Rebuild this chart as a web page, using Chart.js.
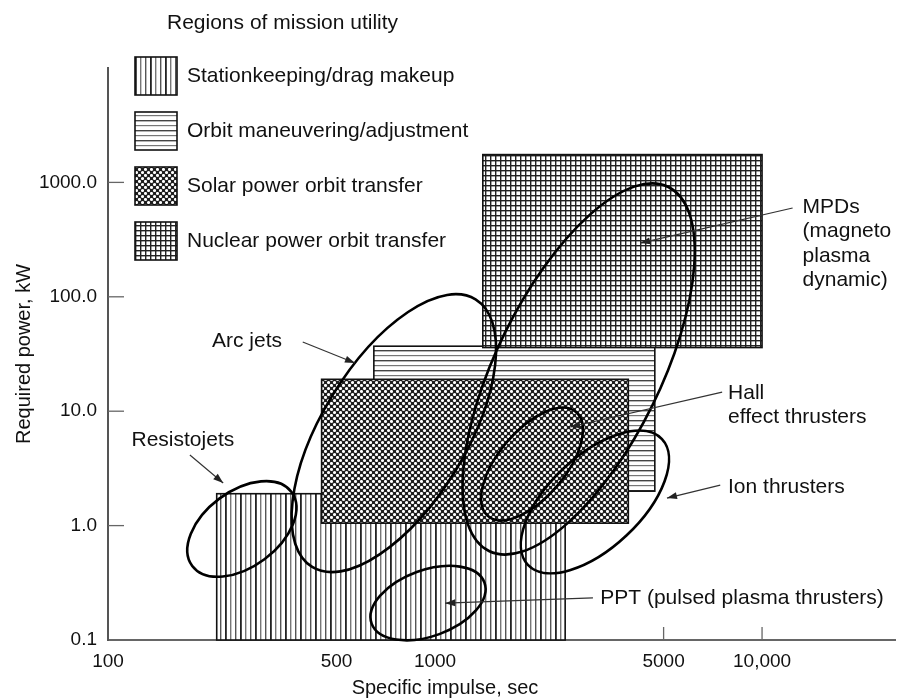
<!DOCTYPE html>
<html>
<head>
<meta charset="utf-8">
<script src="https://cdn.jsdelivr.net/npm/chart.js@4.4.0/dist/chart.umd.min.js"></script>
<style>
  body { margin: 0; background: #fff; }
  #wrap { width: 899px; height: 700px; }
</style>
</head>
<body>
<div id="wrap"><canvas id="myChart"></canvas></div>
<script>
// axis ticks
const xTicks = [100, 500, 1000, 5000, 10000];
const xTickLabels = ["100", "500", "1000", "5000", "10,000"];
const yTicks = [0.1, 1, 10, 100, 1000];
const yTickLabels = ["0.1", "1.0", "10.0", "100.0", "1000.0"];

// regions of mission utility (isp in sec, power in kW)
const regionNames = [
  "Stationkeeping/drag makeup",
  "Orbit maneuvering/adjustment",
  "Solar power orbit transfer",
  "Nuclear power orbit transfer",
];
const regionIspMin = [215, 650, 450, 1400];
const regionIspMax = [2500, 4700, 3900, 10000];
const regionPowerMin = [0.1, 2, 1.05, 36];
const regionPowerMax = [1.9, 37, 19, 1750];

// thruster ellipses: major axis from (ispA, powerA) to (ispB, powerB)
const thrusterNames = ["Resistojets", "Arc jets", "MPDs", "Hall", "Ion", "PPT"];
const ellIspA = [181, 421, 1462, 1452, 1923, 640];
const ellPowerA = [0.444, 0.435, 0.6, 1.21, 0.453, 0.139];
const ellIspB = [364, 1330, 5170, 2698, 4943, 1416];
const ellPowerB = [1.97, 95, 912, 9.84, 5.71, 0.318];
const ellWidth = [0.61, 0.46, 0.405, 0.49, 0.5, 0.55];

// callout labels and their arrows (data coordinates)
const callouts = [
  { lines: ["Resistojets"], isp: 118, power: 5.6, from: [178, 4.14], to: [225, 2.36] },
  { lines: ["Arc jets"], isp: 208, power: 41, from: [394, 40.3], to: [569, 26.4] },
  { lines: ["MPDs", "(magneto", "plasma", "dynamic)"], isp: 13300, power: 610, from: [12400, 597], to: [4240, 295] },
  { lines: ["Hall", "effect thrusters"], isp: 7870, power: 14.4, from: [7550, 14.7], to: [2590, 7.28] },
  { lines: ["Ion thrusters"], isp: 7870, power: 2.17, from: [7450, 2.26], to: [5120, 1.74] },
  { lines: ["PPT (pulsed plasma thrusters)"], isp: 3200, power: 0.233, from: [3040, 0.233], to: [1074, 0.21] },
];

const fontFamily = "'Liberation Sans', Arial, Helvetica, sans-serif";
Chart.defaults.font.family = fontFamily;
Chart.defaults.color = "#111";

function makePattern(kind) {
  const c = document.createElement("canvas");
  const g = c.getContext("2d");
  if (kind === "vertical") {
    c.width = 15; c.height = 4;
    g.fillStyle = "#fff"; g.fillRect(0, 0, 15, 4);
    g.fillStyle = "#222"; g.fillRect(0, 0, 1.8, 4);
    g.fillStyle = "#777"; g.fillRect(5, 0, 1.4, 4);
    g.fillStyle = "#555"; g.fillRect(10, 0, 1.4, 4);
  } else if (kind === "horizontal") {
    c.width = 4; c.height = 10;
    g.fillStyle = "#fff"; g.fillRect(0, 0, 4, 10);
    g.fillStyle = "#444"; g.fillRect(0, 0, 4, 1.4);
    g.fillStyle = "#777"; g.fillRect(0, 5, 4, 1.2);
  } else if (kind === "dots") {
    c.width = 6; c.height = 6;
    g.fillStyle = "#1e1e1e"; g.fillRect(0, 0, 6, 6);
    g.fillStyle = "#fff";
    [[1.5, 1.5], [4.5, 4.5]].forEach(([x, y]) => {
      g.beginPath(); g.arc(x, y, 1.55, 0, Math.PI * 2); g.fill();
    });
  } else {
    c.width = 5; c.height = 5;
    g.fillStyle = "#fff"; g.fillRect(0, 0, 5, 5);
    g.fillStyle = "#222";
    g.fillRect(0, 0, 1.4, 5);
    g.fillRect(0, 0, 5, 1.4);
  }
  return g.createPattern(c, "repeat");
}
const regionStyles = ["vertical", "horizontal", "dots", "grid"].map(makePattern);

function arrow(ctx, x1, y1, x2, y2) {
  ctx.beginPath();
  ctx.moveTo(x1, y1);
  ctx.lineTo(x2, y2);
  ctx.stroke();
  const a = Math.atan2(y2 - y1, x2 - x1);
  const len = 10, w = 3.5;
  ctx.beginPath();
  ctx.moveTo(x2, y2);
  ctx.lineTo(x2 - len * Math.cos(a) + w * Math.sin(a), y2 - len * Math.sin(a) - w * Math.cos(a));
  ctx.lineTo(x2 - len * Math.cos(a) - w * Math.sin(a), y2 - len * Math.sin(a) + w * Math.cos(a));
  ctx.closePath();
  ctx.fill();
}

const thrusterMap = {
  id: "thrusterMap",
  beforeDatasetsDraw(chart) {
    const { ctx, chartArea: area, scales: { x, y } } = chart;
    ctx.save();
    // inner tick marks
    ctx.strokeStyle = "#666";
    ctx.lineWidth = 1.3;
    yTicks.forEach((v) => {
      const py = y.getPixelForValue(v);
      if (py >= area.bottom - 1) return;
      ctx.beginPath(); ctx.moveTo(area.left, py); ctx.lineTo(area.left + 16, py); ctx.stroke();
    });
    xTicks.forEach((v) => {
      const px = x.getPixelForValue(v);
      if (px <= area.left + 1) return;
      ctx.beginPath(); ctx.moveTo(px, area.bottom); ctx.lineTo(px, area.bottom - 13); ctx.stroke();
    });
    // regions
    regionNames.forEach((name, i) => {
      const x1 = x.getPixelForValue(regionIspMin[i]);
      const x2 = x.getPixelForValue(regionIspMax[i]);
      const y1 = y.getPixelForValue(regionPowerMax[i]);
      const y2 = y.getPixelForValue(regionPowerMin[i]);
      ctx.fillStyle = regionStyles[i];
      ctx.fillRect(x1, y1, x2 - x1, y2 - y1);
      ctx.strokeStyle = "#111";
      ctx.lineWidth = 1.6;
      ctx.strokeRect(x1, y1, x2 - x1, y2 - y1);
    });
    // thruster ellipses
    ctx.strokeStyle = "#000";
    ctx.lineWidth = 2.6;
    thrusterNames.forEach((name, i) => {
      const xa = x.getPixelForValue(ellIspA[i]), ya = y.getPixelForValue(ellPowerA[i]);
      const xb = x.getPixelForValue(ellIspB[i]), yb = y.getPixelForValue(ellPowerB[i]);
      const half = Math.hypot(xb - xa, yb - ya) / 2;
      ctx.beginPath();
      ctx.ellipse((xa + xb) / 2, (ya + yb) / 2, half, half * ellWidth[i], Math.atan2(yb - ya, xb - xa), 0, Math.PI * 2);
      ctx.stroke();
    });
    // callouts
    ctx.strokeStyle = "#333";
    ctx.fillStyle = "#222";
    ctx.lineWidth = 1.2;
    callouts.forEach((c) => {
      arrow(ctx, x.getPixelForValue(c.from[0]), y.getPixelForValue(c.from[1]),
        x.getPixelForValue(c.to[0]), y.getPixelForValue(c.to[1]));
    });
    ctx.fillStyle = "#111";
    ctx.font = "21px " + fontFamily;
    ctx.textAlign = "left";
    ctx.textBaseline = "middle";
    callouts.forEach((c) => {
      const px = x.getPixelForValue(c.isp), py = y.getPixelForValue(c.power);
      c.lines.forEach((t, k) => ctx.fillText(t, px, py + k * 24.5));
    });
    ctx.restore();
  },
  afterDraw(chart) {
    const { ctx } = chart;
    ctx.save();
    ctx.fillStyle = "#111";
    ctx.font = "21px " + fontFamily;
    ctx.textBaseline = "middle";
    ctx.textAlign = "left";
    ctx.fillText("Regions of mission utility", 167, 23);
    regionNames.forEach((name, i) => {
      const top = 57 + i * 55;
      ctx.fillStyle = regionStyles[i];
      ctx.fillRect(135, top, 42, 38);
      ctx.strokeStyle = "#111";
      ctx.lineWidth = 1.6;
      ctx.strokeRect(135, top, 42, 38);
      ctx.fillStyle = "#111";
      ctx.fillText(name, 187, top + 19);
    });
    // x-axis title
    ctx.textAlign = "center";
    ctx.font = "20px " + fontFamily;
    ctx.fillText("Specific impulse, sec", 445, 688);
    ctx.restore();
  },
};

const config = {
  type: "scatter",
  data: { datasets: [] },
  options: {
    responsive: true,
    maintainAspectRatio: false,
    animation: false,
    layout: { padding: { top: 68, right: 4, left: 0, bottom: 0 } },
    plugins: { legend: { display: false }, tooltip: { enabled: false } },
    scales: {
      x: {
        type: "logarithmic",
        min: 100,
        max: 25500,
        afterBuildTicks: (s) => { s.ticks = xTicks.map((v) => ({ value: v })); },
        afterFit: (s) => { s.height = 60; },
        grid: { display: false, drawTicks: false },
        border: { display: true, color: "#666", width: 2 },
        ticks: {
          autoSkip: false, maxRotation: 0, padding: 10,
          font: { size: 19 }, color: "#111",
          callback: (v, i) => xTickLabels[i],
        },
      },
      y: {
        type: "logarithmic",
        min: 0.1,
        max: 10000,
        afterBuildTicks: (s) => { s.ticks = yTicks.map((v) => ({ value: v })); },
        afterFit: (s) => { s.width = 108; },
        grid: { display: false, drawTicks: false },
        border: { display: true, color: "#555", width: 2 },
        ticks: {
          autoSkip: false, padding: 11,
          font: { size: 19 }, color: "#111",
          callback: (v, i) => yTickLabels[i],
        },
        title: {
          display: true, text: "Required power, kW",
          font: { size: 20 }, color: "#111",
          padding: { top: 12, bottom: 0 },
        },
      },
    },
  },
  plugins: [thrusterMap],
};

new Chart(document.getElementById("myChart"), config);
</script>
</body>
</html>
